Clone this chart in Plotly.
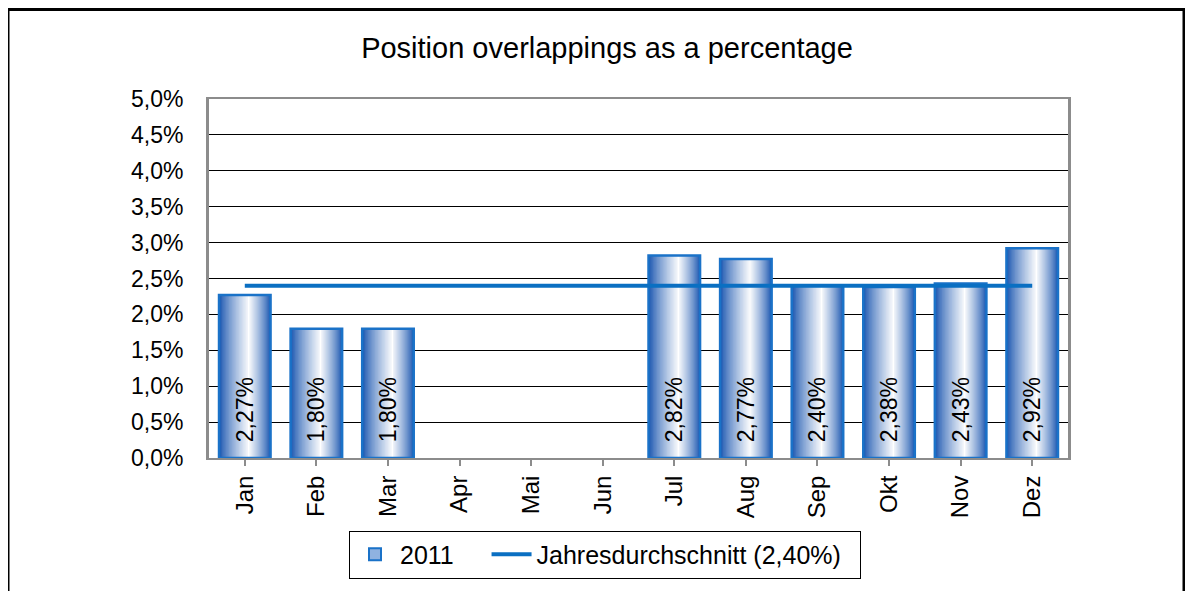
import plotly.graph_objects as go

months = ["Jan", "Feb", "Mar", "Apr", "Mai", "Jun", "Jul", "Aug", "Sep", "Okt", "Nov", "Dez"]
values_2011 = [2.27, 1.80, 1.80, None, None, None, 2.82, 2.77, 2.40, 2.38, 2.43, 2.92]
annual_avg = 2.40
avg_line = [annual_avg] * len(months)
title_text = "Position overlappings as a percentage"
bar_name = "2011"
line_name = "Jahresdurchschnitt (2,40%)"

FONT = "Liberation Sans, Arial, sans-serif"
BAR_W = 0.72
EDGE = (26, 86, 176)
WHITE = (255, 255, 255)
N = 22
CENTER = 0.58
NB = "\u00a0"

fig = go.Figure()
xs = list(range(len(months)))

# gradient layers (overlaid, narrowing toward the light centre)
for k in range(N):
    t = k / (N - 1)
    a = CENTER * t
    b = 1 - (1 - CENTER) * t
    f = t ** 0.8
    col = tuple(int(EDGE[i] + (WHITE[i] - EDGE[i]) * f) for i in range(3))
    fig.add_trace(go.Bar(
        x=xs, y=values_2011,
        width=BAR_W * (b - a),
        offset=-BAR_W / 2 + BAR_W * a,
        marker=dict(color="rgb(%d,%d,%d)" % col, line=dict(width=0)),
        showlegend=False, hoverinfo="skip",
    ))

# outline + labels
fig.add_trace(go.Bar(
    x=xs, y=values_2011, name=bar_name,
    width=BAR_W, offset=-BAR_W / 2,
    marker=dict(color="rgba(150,185,228,0)", line=dict(color="#1a72c8", width=2.5)),
    texttemplate=NB * 2 + "%{y:.2f}%", textposition="inside", insidetextanchor="start",
    textangle=-90, textfont=dict(family=FONT, size=23, color="black"),
    showlegend=False,
))
# legend entry for the bars
fig.add_trace(go.Bar(
    x=[None], y=[None], name=bar_name + NB * 4,
    marker=dict(color="#8fb2e0", line=dict(color="#1a72c8", width=2)),
    showlegend=True,
))
fig.add_trace(go.Scatter(
    x=xs, y=avg_line, name=line_name + NB * 2, mode="lines",
    line=dict(color="#0a6fc2", width=4), showlegend=True,
))

# page has an 8px body margin; figure coordinates = screen - 8
W, H = 1177, 583
L, R, T, B = 201, 1060, 91, 452
pw, ph = R - L, B - T

def px(x):
    return (x - L) / pw

def py(y):
    return (B - y) / ph

fig.update_layout(
    width=W, height=H,
    margin=dict(l=L, r=W - R, t=T, b=H - B),
    paper_bgcolor="white", plot_bgcolor="white",
    barmode="overlay",
    separators=",.",
    font=dict(family=FONT, size=23, color="black"),
    title=dict(text=title_text, x=599 / W, xref="container", xanchor="center",
               y=1 - 40 / H, yref="container", yanchor="middle",
               font=dict(family=FONT, size=29, color="black")),
    legend=dict(orientation="h", x=px(597), xanchor="center", y=py(525), yanchor="top",
                bordercolor="black", borderwidth=1, font=dict(family=FONT, size=25),
                traceorder="normal", itemwidth=40),
    xaxis=dict(
        tickmode="array", tickvals=xs, ticktext=months,
        range=[-0.5, len(months) - 0.5],
        tickangle=-90, tickfont=dict(family=FONT, size=24),
        showline=True, linecolor="#8c8c8c", linewidth=2, mirror=True,
        ticks="outside", ticklen=6, tickcolor="#8c8c8c", tickwidth=1.5,
        showgrid=False, ticklabelstandoff=0, tickson="boundaries",
    ),
    yaxis=dict(
        range=[0, 5], dtick=0.5, tick0=0, tickformat=".1f", ticksuffix="%",
        tickfont=dict(family=FONT, size=23),
        showline=True, linecolor="#8c8c8c", linewidth=3, mirror=True,
        showgrid=True, gridcolor="black", gridwidth=1, zeroline=False,
        ticks="", ticklabelstandoff=18,
    ),
    shapes=[dict(type="rect", xref="paper", yref="paper",
                 x0=px(0), x1=px(W - 1), y0=py(H + 20), y1=py(1),
                 line=dict(color="black", width=3), fillcolor="rgba(0,0,0,0)", layer="above")],
)

fig.write_html("out.html")
